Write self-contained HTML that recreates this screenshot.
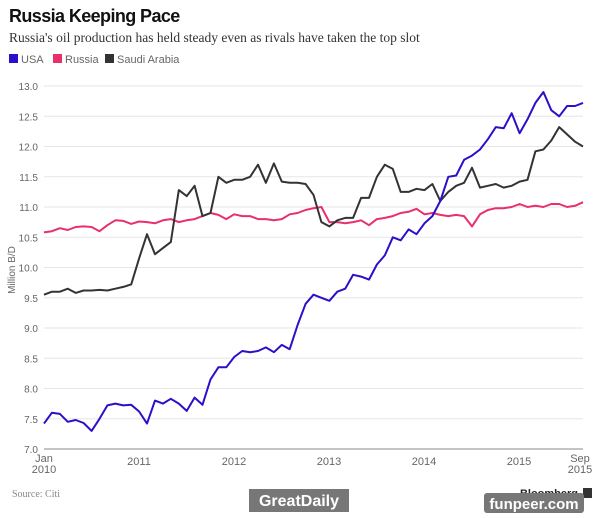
<!DOCTYPE html>
<html><head><meta charset="utf-8"><style>
body{margin:0;background:#fff;width:600px;height:513px;overflow:hidden;font-family:"Liberation Sans",sans-serif}
</style></head><body>
<svg id="s" width="600" height="513" xmlns="http://www.w3.org/2000/svg" font-family="Liberation Sans, sans-serif">
<text x="9" y="22" font-size="18" font-weight="bold" fill="#111" letter-spacing="-0.6">Russia Keeping Pace</text>
<text x="9" y="42" font-size="13.5" font-family="Liberation Serif, serif" fill="#333">Russia's oil production has held steady even as rivals have taken the top slot</text>
<rect x="9" y="54" width="9" height="9" fill="#2a10c8"/><text x="21" y="63" font-size="11" fill="#666">USA</text>
<rect x="53" y="54" width="9" height="9" fill="#e8306a"/><text x="65" y="63" font-size="11" fill="#666">Russia</text>
<rect x="105" y="54" width="9" height="9" fill="#333"/><text x="117" y="63" font-size="11" fill="#666">Saudi Arabia</text>
<g id="grid"></g>
<text transform="translate(15,270) rotate(-90)" font-size="10" fill="#666" text-anchor="middle">Million B/D</text>
<line x1="44" y1="449" x2="583" y2="449" stroke="#888" stroke-width="1"/>
<g font-size="11" fill="#666" text-anchor="middle">
<text x="44" y="462">Jan</text><text x="44" y="473">2010</text>
<text x="139" y="465">2011</text><text x="234" y="465">2012</text><text x="329" y="465">2013</text>
<text x="424" y="465">2014</text><text x="519" y="465">2015</text>
<text x="580" y="462">Sep</text><text x="580" y="473">2015</text>
</g>
<text x="12" y="497" font-size="10" font-family="Liberation Serif, serif" fill="#888">Source: Citi</text>
<text x="578" y="497" font-size="11" font-weight="bold" fill="#222" text-anchor="end">Bloomberg</text>
<rect x="583" y="488" width="9" height="10" fill="#333"/>
<rect x="249" y="489" width="100" height="23" fill="#777"/>
<text x="299" y="506" font-size="16" font-weight="bold" fill="#fff" text-anchor="middle">GreatDaily</text>
<rect x="484" y="493" width="100" height="20" rx="3" fill="#777"/>
<text x="534" y="509" font-size="15" font-weight="bold" fill="#fff" text-anchor="middle">funpeer.com</text>
<g id="lines"></g>
</svg>
<script>
var NS="http://www.w3.org/2000/svg";
function Y(v){return 449-(v-7)*60.5}
function X(m){return 44+m*539/68}
var g=document.getElementById("grid");
for(var v=7;v<=13.001;v+=0.5){
 var y=Y(v);
 if(v>7.01){var l=document.createElementNS(NS,"line");l.setAttribute("x1",44);l.setAttribute("x2",583);l.setAttribute("y1",y);l.setAttribute("y2",y);l.setAttribute("stroke","#e6e6e6");g.appendChild(l);}
 var t=document.createElementNS(NS,"text");t.setAttribute("x",38);t.setAttribute("y",y+4);t.setAttribute("font-size","10");t.setAttribute("fill","#666");t.setAttribute("text-anchor","end");t.textContent=v.toFixed(1);g.appendChild(t);
}
var usa=[7.42,7.6,7.58,7.45,7.48,7.43,7.3,7.5,7.72,7.75,7.72,7.73,7.62,7.42,7.8,7.75,7.83,7.75,7.63,7.85,7.73,8.15,8.35,8.35,8.52,8.62,8.6,8.62,8.68,8.6,8.72,8.65,9.05,9.4,9.55,9.5,9.45,9.6,9.65,9.88,9.85,9.8,10.05,10.2,10.5,10.45,10.63,10.55,10.73,10.85,11.1,11.5,11.52,11.78,11.85,11.95,12.12,12.32,12.3,12.55,12.22,12.45,12.72,12.9,12.6,12.5,12.67,12.67,12.72];
var rus=[10.58,10.6,10.65,10.62,10.67,10.68,10.67,10.6,10.7,10.78,10.77,10.72,10.76,10.75,10.73,10.78,10.8,10.75,10.78,10.8,10.85,10.9,10.87,10.8,10.88,10.85,10.85,10.8,10.8,10.78,10.8,10.88,10.9,10.95,10.98,11.0,10.75,10.75,10.73,10.75,10.78,10.7,10.8,10.82,10.85,10.9,10.92,10.97,10.88,10.9,10.87,10.85,10.87,10.85,10.68,10.88,10.95,10.98,10.98,11.0,11.05,11.0,11.02,11.0,11.05,11.05,11.0,11.02,11.08];
var sau=[9.55,9.6,9.6,9.65,9.58,9.62,9.62,9.63,9.62,9.65,9.68,9.72,10.15,10.55,10.22,10.32,10.42,11.28,11.18,11.35,10.85,10.9,11.5,11.4,11.45,11.45,11.5,11.7,11.4,11.72,11.42,11.4,11.4,11.38,11.2,10.75,10.68,10.78,10.82,10.82,11.15,11.15,11.5,11.7,11.63,11.25,11.25,11.3,11.28,11.38,11.1,11.25,11.35,11.4,11.65,11.32,11.35,11.38,11.32,11.35,11.42,11.45,11.92,11.95,12.1,12.32,12.2,12.08,12.0];
var L=document.getElementById("lines");
[[rus,"#e8306a"],[sau,"#333"],[usa,"#2a10c8"]].forEach(function(s){
 var p=document.createElementNS(NS,"polyline");
 p.setAttribute("points",s[0].map(function(v,i){return X(i).toFixed(1)+","+Y(v).toFixed(1)}).join(" "));
 p.setAttribute("fill","none");p.setAttribute("stroke",s[1]);p.setAttribute("stroke-width","2");p.setAttribute("stroke-linejoin","round");
 L.appendChild(p);
});
</script>
</body></html>
